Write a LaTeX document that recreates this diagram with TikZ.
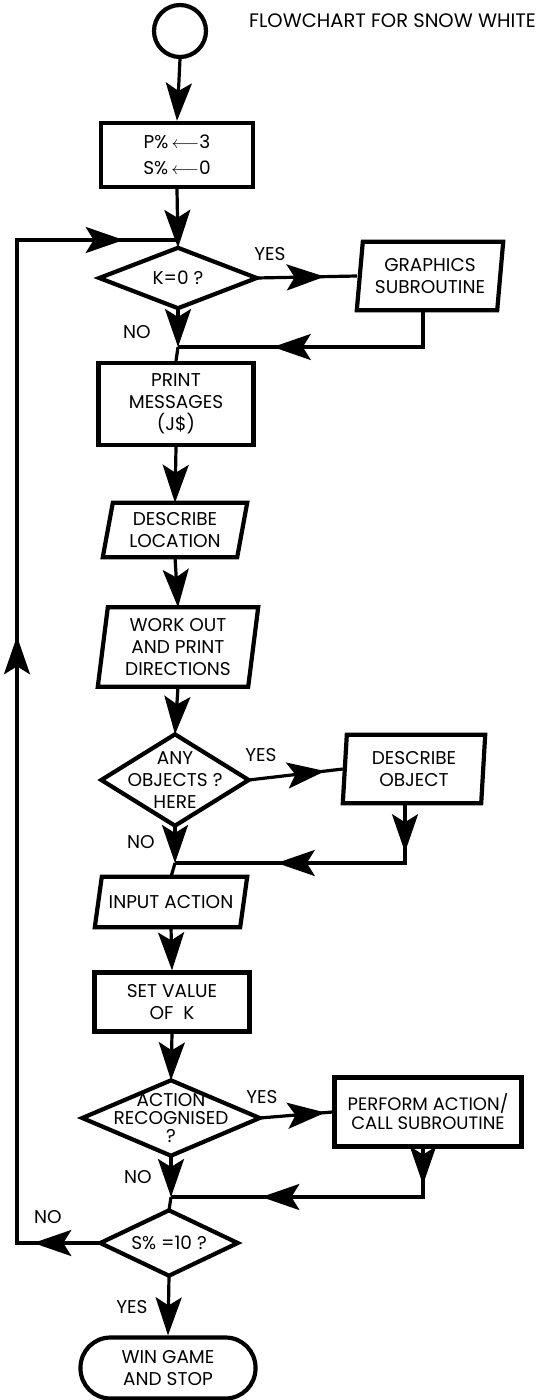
\documentclass[tikz,border=0pt]{standalone}
\usepackage{fontspec}
\setmainfont{Poppins}
\usetikzlibrary{arrows.meta,decorations.markings}

% outline helpers: diamond on a node's box, and slanted (input/output) box
\newcommand\diamondline[1]{\draw[shapeline] (#1.north) -- (#1.east) -- (#1.south) -- (#1.west) -- cycle;}
\newcommand\slantline[2]{\draw[shapeline] (#1.south west) -- ([xshift=#2]#1.north west) -- (#1.north east) -- ([xshift=-#2]#1.south east) -- cycle;}

\begin{document}
\begin{tikzpicture}[x=1pt,y=-1pt,
  shapeline/.style={line width=4.2pt, line join=miter},
  flow/.style={line width=3.2pt},
  tip/.style={-{Stealth[length=38pt,width=26pt,inset=8pt]}},
  midarr/.style={postaction={decorate,decoration={markings,
      mark=at position #1 with {\arrow{Stealth[length=38pt,width=26pt,inset=8pt]}}}}},
  holder/.style={draw=none, inner sep=0pt, align=center, font=\fontsize{18.5}{22}\selectfont},
  box/.style={holder, draw, shapeline},
  lbl/.style={font=\fontsize{18.5}{20}\selectfont, inner sep=0pt}
]
\fill[white] (0,0) rectangle (549,1400);
\useasboundingbox (0,0) rectangle (549,1400);

\node[lbl, anchor=west, font=\fontsize{19.5}{22}\selectfont] (title) at (249,21) {FLOWCHART FOR SNOW WHITE};

% main column
\node[box, circle, minimum size=52pt] (start) at (180,31) {};
\node[box, minimum width=152, minimum height=64, font=\fontsize{18.5}{26}\selectfont] (init) at (177,155)
  {P\%\,$\longleftarrow$3\\S\%\,$\longleftarrow$0};
\node[holder, minimum width=157, minimum height=60] (d1) at (178,278) {K=0 ?};
\node[box, minimum width=155, minimum height=82] (print) at (176,404) {PRINT\\MESSAGES\\(J\$)};
\node[holder, minimum width=144, minimum height=54] (loc) at (175,530) {DESCRIBE\\LOCATION};
\node[holder, minimum width=160, minimum height=79] (work) at (178,647) {WORK OUT\\AND PRINT\\DIRECTIONS};
\node[holder, minimum width=147, minimum height=91] (d2) at (175,780) {ANY\\OBJECTS ?\\HERE};
\node[holder, minimum width=152, minimum height=50] (input) at (171,902) {INPUT ACTION};
\node[box, minimum width=155, minimum height=59] (setk) at (172,1002) {SET VALUE\\OF\ \ K};
\node[holder, minimum width=177, minimum height=75, font=\fontsize{18.5}{18}\selectfont] (d3) at (171,1118)
  {ACTION\\RECOGNISED\\?};
\node[holder, minimum width=137, minimum height=65] (d4) at (169,1243) {S\% =10 ?};
\node[box, rounded corners=30pt, minimum width=175, minimum height=61] (win) at (168,1368) {WIN GAME\\AND STOP};

% side branches
\node[holder, minimum width=146, minimum height=68] (gfx) at (430,276) {GRAPHICS\\SUBROUTINE};
\node[holder, minimum width=142, minimum height=68] (obj) at (414,769) {DESCRIBE\\OBJECT};
\node[box, minimum width=187, minimum height=69, font=\fontsize{18}{19}\selectfont] (perform) at (428,1112)
  {PERFORM ACTION/\\CALL SUBROUTINE};

% outlines
\diamondline{d1}
\diamondline{d2}
\diamondline{d3}
\diamondline{d4}
\slantline{gfx}{6pt}
\slantline{loc}{10pt}
\slantline{work}{10pt}
\slantline{obj}{4pt}
\slantline{input}{7pt}

% junction points
\coordinate (j0) at (d1.north |- 0,240);
\coordinate (j1) at (d1.south |- 0,347);
\coordinate (j2) at (d2.south |- 0,863);
\coordinate (j3) at (d3.south |- 0,1197);
\coordinate (lc) at (17,1243);

% connectors
\draw[flow,tip] (start.south) -- (init.north);
\draw[flow,tip] (init.south) -- (d1.north);
\draw[flow,tip] (d1.south) -- (j1);
\draw[flow] (j1) -- (print.north);
\draw[flow,midarr=68pt] (d1.east) -- (gfx.west);
\draw[flow,midarr=187pt] (gfx.south -| 423,0) |- (j1);
\draw[flow,tip] (print.south) -- (loc.north);
\draw[flow,tip] (loc.south) -- (work.north);
\draw[flow,tip] (work.south) -- (d2.north);
\draw[flow,tip] (d2.south) -- (j2);
\draw[flow] (j2) -- (input.north);
\draw[flow,midarr=77pt] (d2.east) -- (obj.west);
\draw[flow,midarr=49pt,midarr=188pt] (obj.south -| 405,0) |- (j2);
\draw[flow,tip] (input.south) -- (setk.north);
\draw[flow,tip] (setk.south) -- (d3.north);
\draw[flow,tip] (d3.south) -- (j3);
\draw[flow] (j3) -- (d4.north);
\draw[flow,midarr=66pt] (d3.east) -- (perform.west);
\draw[flow,midarr=36pt,midarr=210pt] (perform.south -| 423,0) |- (j3);
\draw[flow,tip] (d4.south) -- (win.north);
\draw[flow,midarr=67pt,midarr=690pt,midarr=1193pt] (d4.west) -- (lc) |- (j0);

% branch labels
\node[lbl] (yes1) at (270,254) {YES};
\node[lbl] (no1) at (137,332) {NO};
\node[lbl] (yes2) at (261,755) {YES};
\node[lbl] (no2) at (141,842) {NO};
\node[lbl] (yes3) at (262,1097) {YES};
\node[lbl] (no3) at (138,1177) {NO};
\node[lbl] (no4) at (48,1217) {NO};
\node[lbl] (yes4) at (132,1307) {YES};
\end{tikzpicture}
\end{document}
